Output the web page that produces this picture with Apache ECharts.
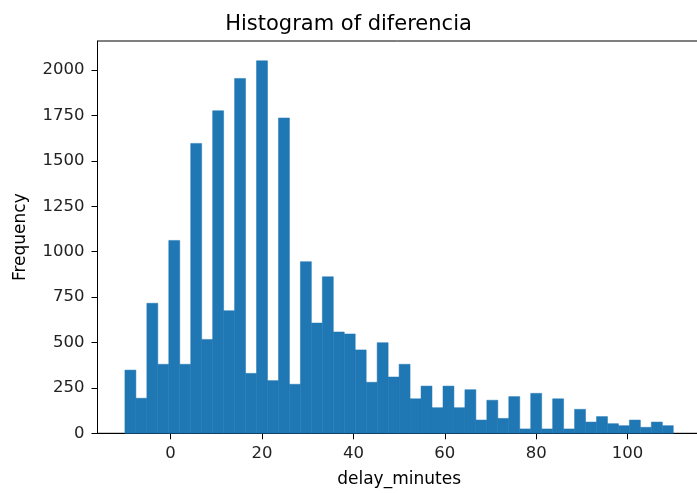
<!DOCTYPE html>
<html>
<head>
<meta charset="utf-8">
<script src="https://cdn.jsdelivr.net/npm/echarts@6/dist/echarts.min.js"></script>
<style>html,body{margin:0;padding:0;background:#fff;}#c{width:697px;height:493px;}</style>
</head>
<body>
<div id="c"></div>
<script>
// Histogram: 50 bins from -10 to 110 (width 2.4)
var binStart = -10;
var binWidth = 2.4;
var counts = [
  348, 193, 716, 380, 1062, 380, 1596, 517, 1776, 675,
  1954, 330, 2051, 290, 1736, 270, 945, 607, 862, 558,
  547, 459, 281, 499, 310, 380, 190, 260, 141, 260,
  141, 240, 73, 182, 82, 202, 24, 220, 24, 190,
  24, 132, 62, 92, 53, 42, 73, 33, 62, 42
];
var xTicks = [0, 20, 40, 60, 80, 100];
var yTicks = [0, 250, 500, 750, 1000, 1250, 1500, 1750, 2000];

var data = counts.map(function (c, i) {
  var s = binStart + i * binWidth;
  return [s, s + binWidth, c];
});

var FONT = 'DejaVu Sans';
var chart = echarts.init(document.getElementById('c'), null, {renderer: 'canvas'});
chart.setOption({
  animation: false,
  backgroundColor: '#ffffff',
  title: {
    text: 'Histogram of diferencia',
    left: 'center', top: 9,
    textStyle: {fontFamily: FONT, fontSize: 21, fontWeight: 'normal', color: '#000'}
  },
  grid: {
    left: 97.5, top: 41, right: -3.7, bottom: 59.7,
    outerBoundsMode: 'none', containLabel: false,
    show: true, borderColor: '#000', borderWidth: 1, backgroundColor: 'transparent'
  },
  xAxis: {
    type: 'value', min: -16, max: 116,
    name: 'delay_minutes', nameLocation: 'middle', nameGap: 38,
    nameTextStyle: {fontFamily: FONT, fontSize: 17, color: '#000'},
    axisLine: {show: true, onZero: false, lineStyle: {color: '#000', width: 1}},
    axisTick: {show: true, length: 6, customValues: xTicks, lineStyle: {color: '#000'}},
    axisLabel: {customValues: xTicks, margin: 12, fontFamily: FONT, fontSize: 16.5, color: '#222',
      formatter: function (v) { return String(v); }},
    splitLine: {show: false}
  },
  yAxis: {
    type: 'value', min: 0, max: 2160,
    name: 'Frequency', nameLocation: 'middle', nameGap: 68, nameRotate: 90,
    nameTextStyle: {fontFamily: FONT, fontSize: 17, color: '#000'},
    axisLine: {show: true, onZero: false, lineStyle: {color: '#000', width: 1}},
    axisTick: {show: true, length: 6, customValues: yTicks, lineStyle: {color: '#000'}},
    axisLabel: {customValues: yTicks, margin: 13, fontFamily: FONT, fontSize: 16.5, color: '#222',
      formatter: function (v) { return String(v); }},
    splitLine: {show: false}
  },
  series: [{
    type: 'custom',
    data: data,
    encode: {x: [0, 1], y: 2},
    renderItem: function (params, api) {
      var p0 = api.coord([api.value(0), 0]);
      var p1 = api.coord([api.value(1), api.value(2)]);
      return {
        type: 'rect',
        shape: {x: p0[0], y: p1[1], width: p1[0] - p0[0], height: p0[1] - p1[1]},
        style: {fill: '#1f77b4', stroke: '#1f77b4', lineWidth: 0.5}
      };
    }
  }]
});
</script>
</body>
</html>
